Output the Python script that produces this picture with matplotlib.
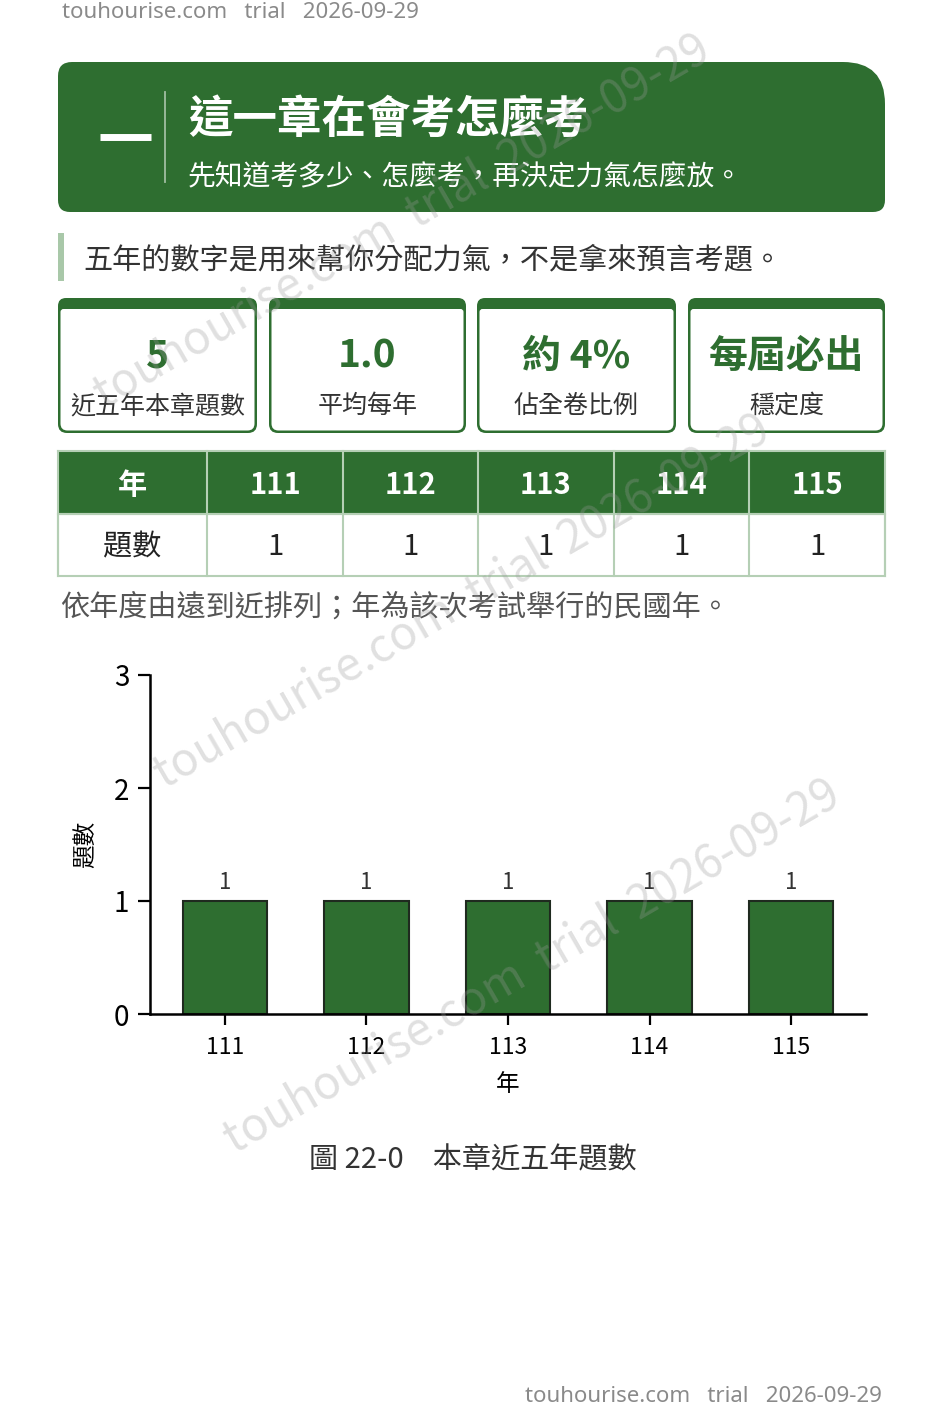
import numpy as np
import matplotlib.pyplot as plt
from matplotlib.path import Path
from matplotlib.patches import PathPatch, Rectangle

plt.rcParams['font.family'] = ['Noto Sans CJK TC', 'DejaVu Sans']

years = ['111', '112', '113', '114', '115']
counts = [1, 1, 1, 1, 1]
stat_values = ['5', '1.0', '約 4%', '每屆必出']
stat_labels = ['近五年本章題數', '平均每年', '佔全卷比例', '穩定度']
title = '這一章在會考怎麼考'
subtitle = '先知道考多少、怎麼考，再決定力氣怎麼放。'
note = '五年的數字是用來幫你分配力氣，不是拿來預言考題。'
table_note = '依年度由遠到近排列；年為該次考試舉行的民國年。'
fig_caption = '圖 22-0　本章近五年題數'
mark = 'touhourise.com   trial   2026-09-29'

GREEN = '#2e6e30'
LIGHT = '#b5cfb5'
TEXT = '#333333'


def round_box(x0, y0, x1, y1, r_tl, r_tr, r_br, r_bl):
    # y grows downward (page coordinates)
    v = [(x0 + r_tl, y0), (x1 - r_tr, y0), (x1, y0), (x1, y0 + r_tr),
         (x1, y1 - r_br), (x1, y1), (x1 - r_br, y1),
         (x0 + r_bl, y1), (x0, y1), (x0, y1 - r_bl),
         (x0, y0 + r_tl), (x0, y0), (x0 + r_tl, y0)]
    c = [Path.MOVETO, Path.LINETO, Path.CURVE3, Path.CURVE3,
         Path.LINETO, Path.CURVE3, Path.CURVE3,
         Path.LINETO, Path.CURVE3, Path.CURVE3,
         Path.LINETO, Path.CURVE3, Path.CURVE3]
    return Path(v, c)


fig = plt.figure(figsize=(9.45, 14.17), dpi=100)
fig.patch.set_facecolor('white')
page = fig.add_axes([0, 0, 1, 1])
page.set_xlim(0, 945)
page.set_ylim(1417, 0)
page.axis('off')

# header block
page.add_patch(PathPatch(round_box(58, 62, 885, 212, 14, 42, 12, 12), fc=GREEN, ec='none'))
page.plot([100, 151], [137, 137], color='white', lw=5, solid_capstyle='butt')
page.plot([165, 165], [92, 182], color='#ffffff', alpha=0.55, lw=1.3)
page.text(188, 120, title, color='white', fontsize=32, fontweight='bold', va='center')
page.text(188, 177, subtitle, color='white', fontsize=20, va='center')

# note
page.add_patch(Rectangle((58, 233), 6, 48, fc='#a9c8a9', ec='none'))
page.text(83, 260, note, color=TEXT, fontsize=21, va='center')

# stat cards
card_x = [(58, 257), (269, 466), (477, 676), (688, 885)]
for (x0, x1), val, lab in zip(card_x, stat_values, stat_labels):
    page.add_patch(PathPatch(round_box(x0, 298, x1, 433, 8, 8, 9, 9), fc=GREEN, ec='none'))
    page.add_patch(PathPatch(round_box(x0 + 2.5, 309, x1 - 2.5, 430.5, 3, 3, 7, 7), fc='white', ec='none'))
    cx = (x0 + x1) / 2
    page.text(cx, 356, val, color=GREEN, fontsize=28, fontweight='bold', ha='center', va='center')
    page.text(cx, 406, lab, color=TEXT, fontsize=18, ha='center', va='center')

# table
col_edges = [58, 207, 343, 478, 614, 749, 885]
page.add_patch(Rectangle((58, 451), 827, 63, fc=GREEN, ec='none'))
page.add_patch(Rectangle((58, 514), 827, 62, fc='white', ec=LIGHT, lw=1.5))
page.plot([58, 885], [451, 451], color=LIGHT, lw=1.5)
page.plot([58, 885], [514, 514], color=LIGHT, lw=1.5)
for xe in col_edges:
    page.plot([xe, xe], [451, 576], color=LIGHT, lw=1.5)
head = ['年'] + years
row = ['題數'] + [str(c) for c in counts]
for i in range(len(head)):
    cx = (col_edges[i] + col_edges[i + 1]) / 2
    page.text(cx, 485, head[i], color='white', fontsize=21, fontweight='bold', ha='center', va='center')
    page.text(cx, 547, row[i], color='#222222', fontsize=21, ha='center', va='center')
page.text(60, 608, table_note, color='#555555', fontsize=21, va='center')

# figure caption and footer marks
page.text(309, 1160, fig_caption, color=TEXT, fontsize=21, va='center')
page.text(62, 13, mark, color='#8a8a8a', fontsize=16, va='center', family='Noto Sans')
page.text(882, 1396, mark, color='#8a8a8a', fontsize=16, va='center', ha='right', family='Noto Sans')

# bar chart
W, H = 945, 1417
ax = fig.add_axes([150 / W, (H - 1014) / H, (866 - 150) / W, (1014 - 675) / H])
ax.patch.set_alpha(0)
xpos = np.arange(len(years))
bars = ax.bar(xpos, counts, width=0.6, color=GREEN, edgecolor='#1f2a1f', linewidth=1.5, zorder=2)
for b, c in zip(bars, counts):
    ax.text(b.get_x() + b.get_width() / 2, c + 0.06, str(c), ha='center', va='bottom',
            fontsize=16, color=TEXT)
ax.set_xlim(-0.53, 4.53)
ax.set_ylim(0, 3)
ax.set_yticks([0, 1, 2, 3])
ax.set_xticks(xpos)
ax.set_xticklabels(years)
ax.spines['top'].set_visible(False)
ax.spines['right'].set_visible(False)
ax.spines['left'].set_linewidth(1.8)
ax.spines['bottom'].set_linewidth(1.8)
ax.tick_params(axis='y', labelsize=20, length=9, width=1.6, pad=6, colors='black')
ax.tick_params(axis='x', labelsize=16.5, length=8, width=1.6, pad=8)
ax.set_ylabel('題數', fontsize=17, labelpad=12)
ax.set_xlabel('年', fontsize=17, labelpad=10)

# diagonal watermarks on top
top = fig.add_axes([0, 0, 1, 1])
top.set_xlim(0, 945)
top.set_ylim(1417, 0)
top.axis('off')
for (wx, wy) in [(402, 222), (462, 602), (532, 967)]:
    top.text(wx, wy, mark.replace('   ', '  '), color='#9a9a9a', alpha=0.3, fontsize=33, rotation=30,
             ha='center', va='center', rotation_mode='anchor')

fig.savefig('out.png', dpi=100, facecolor='white')
